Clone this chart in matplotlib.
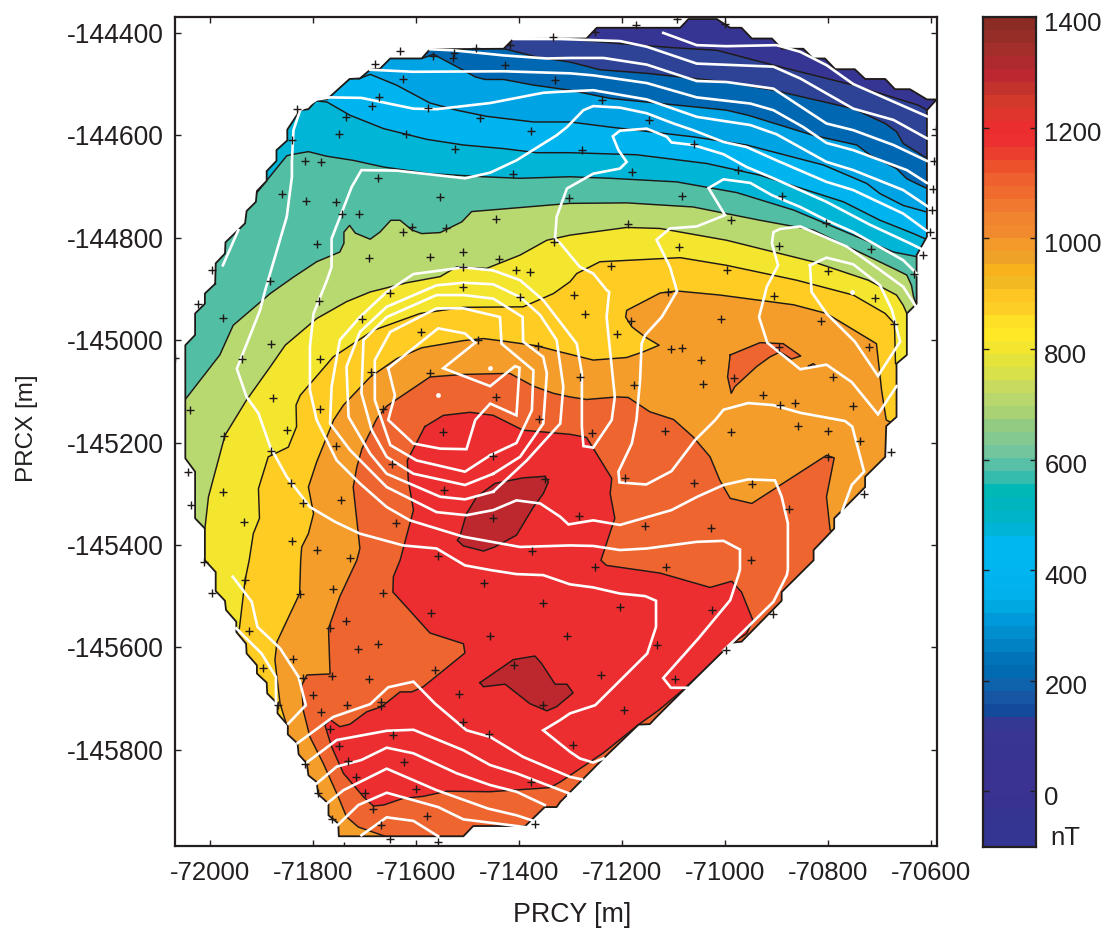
import numpy as np
import matplotlib
matplotlib.use("Agg")
import matplotlib.pyplot as plt
import matplotlib.transforms as mtrans
from matplotlib.patches import Polygon
from matplotlib.colors import ListedColormap, BoundaryNorm

plt.rcParams['font.family'] = ['Liberation Sans', 'DejaVu Sans']
plt.rcParams['axes.unicode_minus'] = False
INK = '#231F20'

# survey outline (PRCY, PRCX)
hull = [(-71990,-144890),(-71989,-144850),(-71971,-144831),(-71970,-144809),(-71932,-144772),(-71929,-144748),
(-71911,-144730),(-71909,-144709),(-71890,-144689),(-71890,-144670),(-71871,-144650),(-71871,-144629),
(-71850,-144610),(-71850,-144589),(-71825,-144551),(-71809,-144549),(-71793,-144531),(-71773,-144530),
(-71729,-144490),(-71709,-144489),(-71689,-144472),(-71670,-144470),(-71650,-144450),(-71589,-144450),
(-71573,-144432),(-71430,-144431),(-71411,-144412),(-71269,-144411),(-71249,-144390),(-71087,-144390),
(-71071,-144373),(-71016,-144373),(-70990,-144390),(-70968,-144390),(-70948,-144411),(-70909,-144411),
(-70890,-144431),(-70848,-144431),(-70829,-144450),(-70806,-144450),(-70786,-144471),(-70748,-144471),
(-70728,-144490),(-70689,-144490),(-70670,-144510),(-70641,-144510),(-70608,-144530),(-70589,-144530),
(-70608,-144551),(-70608,-144798),(-70628,-144834),(-70628,-144929),(-70647,-144948),(-70647,-145029),
(-70667,-145046),(-70667,-145150),(-70687,-145168),(-70689,-145228),(-70728,-145267),(-70728,-145287),
(-70788,-145348),(-70788,-145368),(-70828,-145410),(-70828,-145430),(-70890,-145492),(-70890,-145509),
(-70968,-145589),(-70987,-145591),(-71081,-145684),(-71133,-145736),(-71146,-145750),(-71168,-145751),
(-71236,-145817),(-71320,-145902),(-71327,-145912),(-71350,-145912),(-71388,-145949),(-71489,-145949),
(-71508,-145969),(-71750,-145969),(-71751,-145944),(-71770,-145928),(-71770,-145905),(-71790,-145887),
(-71793,-145863),(-71809,-145850),(-71812,-145827),(-71828,-145809),(-71830,-145788),(-71849,-145770),
(-71849,-145752),(-71869,-145729),(-71869,-145710),(-71889,-145690),(-71890,-145669),(-71909,-145651),
(-71909,-145635),(-71929,-145612),(-71930,-145593),(-71949,-145570),(-71949,-145550),(-71969,-145527),
(-71971,-145509),(-71989,-145490),(-71989,-145453),(-72010,-145430),(-72010,-145368),(-72029,-145348),
(-72029,-145257),(-72048,-145231),(-72048,-145010),(-72029,-144990),(-72029,-144948),(-72010,-144929),
(-72010,-144909)]

# contour lines, open across the survey
c100 = [(-71450,-144400),(-71320,-144411),(-71204,-144421),(-71100,-144429),(-71016,-144434),(-70906,-144463),
(-70751,-144502),(-70625,-144541),(-70602,-144554),(-70560,-144580)]
c200 = [(-71445,-144420),(-71429,-144431),(-71366,-144447),(-71301,-144457),(-71243,-144472),(-71152,-144479),
(-70997,-144496),(-70906,-144512),(-70751,-144548),(-70689,-144577),(-70667,-144593),(-70654,-144616),
(-70608,-144645),(-70550,-144680)]
c300 = [(-71600,-144440),(-71589,-144450),(-71566,-144442),(-71508,-144473),(-71485,-144486),(-71466,-144491),
(-71430,-144491),(-71372,-144502),(-71301,-144512),(-71223,-144528),(-71094,-144541),(-70997,-144551),
(-70955,-144561),(-70829,-144600),(-70744,-144619),(-70718,-144639),(-70667,-144665),(-70647,-144685),
(-70608,-144704),(-70550,-144735)]
c400 = [(-71725,-144480),(-71712,-144490),(-71689,-144481),(-71638,-144502),(-71573,-144537),(-71521,-144551),
(-71463,-144563),(-71372,-144574),(-71301,-144574),(-71223,-144584),(-71062,-144603),(-70958,-144619),
(-70809,-144658),(-70725,-144694),(-70699,-144714),(-70654,-144737),(-70608,-144750),(-70550,-144768)]
c500 = [(-71800,-144525),(-71793,-144533),(-71773,-144535),(-71728,-144561),(-71663,-144587),(-71579,-144608),
(-71508,-144619),(-71430,-144626),(-71366,-144634),(-71301,-144634),(-71172,-144638),(-71036,-144655),
(-70932,-144678),(-70770,-144730),(-70699,-144766),(-70634,-144792),(-70605,-144805),(-70550,-144830)]
c600 = [(-71930,-144740),(-71909,-144712),(-71851,-144640),(-71838,-144637),(-71809,-144632),(-71773,-144641),
(-71722,-144649),(-71663,-144662),(-71573,-144675),(-71469,-144681),(-71398,-144684),(-71301,-144681),
(-71223,-144684),(-71094,-144691),(-70977,-144712),(-70867,-144746),(-70673,-144828),(-70628,-144837),
(-70590,-144845)]
c700 = [(-72060,-145130),(-72052,-145121),(-71981,-145029),(-71955,-144971),(-71883,-144909),(-71838,-144877),
(-71793,-144847),(-71748,-144828),(-71740,-144811),(-71740,-144789),(-71729,-144776),(-71718,-144791),
(-71689,-144803),(-71670,-144789),(-71649,-144766),(-71631,-144766),(-71608,-144785),(-71589,-144792),
(-71553,-144790),(-71511,-144769),(-71492,-144749),(-71456,-144746),(-71301,-144733),(-71191,-144732),
(-71062,-144740),(-70932,-144766),(-70829,-144785),(-70673,-144860),(-70647,-144873),(-70638,-144893),
(-70634,-144915),(-70628,-144932),(-70600,-144940)]
c800 = [(-72040,-145385),(-72010,-145368),(-72003,-145306),(-71971,-145186),(-71929,-145117),(-71883,-145052),
(-71854,-145010),(-71793,-144958),(-71735,-144925),(-71689,-144906),(-71618,-144888),(-71553,-144876),
(-71521,-144857),(-71463,-144860),(-71398,-144834),(-71346,-144805),(-71301,-144795),(-71191,-144780),
(-71126,-144782),(-70997,-144805),(-70829,-144847),(-70722,-144883),(-70667,-144912),(-70654,-144932),
(-70647,-144948),(-70630,-144960)]
c900 = [(-71960,-145590),(-71943,-145563),(-71932,-145469),(-71924,-145430),(-71916,-145378),(-71904,-145348),
(-71906,-145290),(-71887,-145228),(-71848,-145209),(-71832,-145169),(-71833,-145127),(-71825,-145108),
(-71761,-145033),(-71683,-144981),(-71592,-144948),(-71508,-144936),(-71392,-144935),(-71333,-144909),
(-71301,-144886),(-71288,-144870),(-71243,-144847),(-71087,-144839),(-70997,-144854),(-70861,-144883),
(-70751,-144912),(-70689,-144948),(-70671,-144968),(-70669,-145046),(-70640,-145060)]
c1000 = [(-71860,-145775),(-71849,-145759),(-71864,-145710),(-71874,-145625),(-71870,-145589),(-71826,-145495),
(-71824,-145430),(-71822,-145404),(-71809,-145378),(-71799,-145339),(-71809,-145287),(-71793,-145238),
(-71760,-145156),(-71741,-145127),(-71689,-145072),(-71637,-145036),(-71589,-145015),(-71508,-145001),
(-71469,-144997),(-71430,-145002),(-71366,-145011),(-71320,-145023),(-71256,-145039),(-71191,-145034),
(-71159,-145023),(-71128,-145010),(-71155,-144994),(-71181,-144974),(-71193,-144955),(-71191,-144942),
(-71126,-144908),(-71094,-144904),(-71010,-144912),(-70867,-144931),(-70803,-144948),(-70706,-145007),
(-70696,-145098),(-70687,-145156),(-70650,-145175)]
c1100 = [(-71650,-145973),(-71663,-145968),(-71712,-145951),(-71735,-145931),(-71751,-145892),(-71780,-145827),
(-71806,-145775),(-71819,-145723),(-71822,-145674),(-71812,-145654),(-71767,-145652),(-71770,-145563),
(-71748,-145501),(-71715,-145430),(-71709,-145407),(-71722,-145287),(-71715,-145248),(-71705,-145212),
(-71676,-145153),(-71657,-145129),(-71573,-145072),(-71508,-145067),(-71418,-145065),(-71372,-145090),
(-71333,-145104),(-71301,-145111),(-71269,-145116),(-71210,-145111),(-71188,-145112),(-71146,-145140),
(-71100,-145155),(-71062,-145189),(-71029,-145228),(-71010,-145274),(-70990,-145309),(-70948,-145319),
(-70803,-145225),(-70788,-145230),(-70803,-145306),(-70796,-145371),(-70770,-145385)]

# closed contours
c1100_isle_a = [(-70990,-145029),(-70932,-145005),(-70887,-145007),(-70853,-145031),(-70871,-145037),(-70893,-145023),
(-70913,-145033),(-70939,-145052),(-70981,-145091),(-70988,-145104),(-70995,-145072)]
c1100_isle_b = [(-70838,-145051),(-70829,-145046),(-70822,-145051)]
c1200 = [(-71583,-145169),(-71547,-145147),(-71495,-145141),(-71450,-145147),(-71392,-145176),(-71301,-145184),
(-71269,-145190),(-71220,-145270),(-71223,-145300),(-71214,-145348),(-71241,-145430),(-71230,-145440),
(-71126,-145455),(-71029,-145483),(-70987,-145471),(-70968,-145492),(-70946,-145547),(-70958,-145573),
(-70981,-145589),(-71084,-145685),(-71129,-145723),(-71168,-145751),(-71236,-145806),(-71320,-145863),
(-71340,-145874),(-71456,-145882),(-71540,-145881),(-71586,-145891),(-71625,-145895),(-71663,-145908),
(-71683,-145910),(-71702,-145892),(-71741,-145846),(-71764,-145794),(-71777,-145752),(-71767,-145741),
(-71748,-145755),(-71728,-145750),(-71696,-145726),(-71667,-145716),(-71631,-145687),(-71608,-145687),
(-71586,-145677),(-71505,-145611),(-71508,-145593),(-71573,-145572),(-71625,-145514),(-71645,-145492),
(-71644,-145462),(-71631,-145430),(-71605,-145332),(-71615,-145274),(-71617,-145235)]
c1300_isle_a = [(-71515,-145384),(-71502,-145339),(-71482,-145306),(-71447,-145280),(-71392,-145269),(-71350,-145266),
(-71343,-145277),(-71353,-145300),(-71372,-145326),(-71405,-145381),(-71447,-145404),(-71469,-145412),
(-71508,-145402),(-71520,-145391)]
c1300_isle_b = [(-71476,-145669),(-71411,-145624),(-71369,-145617),(-71356,-145632),(-71330,-145672),(-71307,-145672),
(-71295,-145689),(-71320,-145710),(-71327,-145716),(-71346,-145724),(-71379,-145710),(-71427,-145672),
(-71469,-145677)]

band_base = '#373594'
open_bands = [(c100,'#2E4296'),(c200,'#0067B3'),(c300,'#00A3E4'),(c400,'#00B4F0'),(c500,'#00B5D6'),(c600,'#52BFA5'),
              (c700,'#B8D96F'),(c800,'#F4E62F'),(c900,'#FECC23'),(c1000,'#F59D2B'),(c1100,'#EE6530')]
closed_bands = [(c1100_isle_a,'#EE6530'),(c1100_isle_b,'#EE6530'),(c1200,'#EC2E30'),
                (c1300_isle_a,'#BD272E'),(c1300_isle_b,'#BD272E')]

# second field, white lines
w_top = [(-71120,-144400),(-71055,-144424),(-70997,-144426),(-70900,-144424),(-70854,-144437),(-70803,-144463),
(-70751,-144500),(-70608,-144563)]
w_2 = [(-71411,-144412),(-71320,-144412),(-71204,-144416),(-71152,-144427),(-71055,-144460),(-70906,-144466),
(-70854,-144489),(-70751,-144548),(-70673,-144570),(-70608,-144606)]
w_3 = [(-71573,-144432),(-71528,-144434),(-71430,-144444),(-71346,-144450),(-71301,-144449),(-71236,-144449),
(-71152,-144462),(-71055,-144494),(-70997,-144496),(-70906,-144509),(-70803,-144577),(-70751,-144590),
(-70673,-144619),(-70608,-144650)]
w_4 = [(-71689,-144472),(-71605,-144476),(-71430,-144475),(-71301,-144479),(-71256,-144483),(-71152,-144498),
(-71055,-144526),(-70951,-144538),(-70906,-144551),(-70848,-144584),(-70803,-144615),(-70751,-144629),
(-70647,-144668),(-70608,-144693)]
w_5 = [(-70605,-144740),(-70654,-144707),(-70751,-144668),(-70803,-144652),(-70900,-144598),(-70951,-144580),
(-71055,-144564),(-71152,-144530),(-71256,-144512),(-71320,-144515),(-71353,-144517),(-71456,-144537),
(-71560,-144549),(-71605,-144548),(-71706,-144527),(-71767,-144526),(-71793,-144530),(-71825,-144551),
(-71838,-144590),(-71841,-144649),(-71841,-144681),(-71851,-144759),(-71893,-144903),(-71903,-144942),
(-71948,-145056),(-71929,-145111),(-71906,-145143),(-71883,-145209),(-71851,-145267),(-71806,-145326),
(-71757,-145355),(-71709,-145378),(-71625,-145401),(-71560,-145407),(-71505,-145440),(-71456,-145449),
(-71405,-145457),(-71353,-145459),(-71301,-145477),(-71256,-145483),(-71204,-145495),(-71155,-145500),
(-71134,-145509),(-71134,-145560),(-71151,-145612),(-71252,-145713),(-71301,-145729),(-71320,-145742),
(-71353,-145762),(-71301,-145804),(-71282,-145817),(-71256,-145825),(-71236,-145817)]
w_6 = [(-70605,-144789),(-70654,-144753),(-70751,-144707),(-70803,-144691),(-70900,-144649),(-70958,-144623),
(-71003,-144613),(-71062,-144590),(-71100,-144577),(-71152,-144557),(-71204,-144546),(-71256,-144543),
(-71275,-144551),(-71307,-144584),(-71327,-144600),(-71405,-144649),(-71456,-144673),(-71505,-144684),
(-71638,-144669),(-71706,-144668),(-71725,-144701),(-71764,-144802),(-71764,-144857),(-71773,-144883),
(-71799,-144948),(-71806,-145013),(-71806,-145098),(-71793,-145156),(-71754,-145235),(-71709,-145280),
(-71657,-145326),(-71612,-145352),(-71508,-145384),(-71398,-145404),(-71301,-145401),(-71256,-145402),
(-71204,-145410),(-71152,-145407),(-71055,-145394),(-71003,-145392),(-70971,-145409),(-70971,-145448),
(-70974,-145459),(-70990,-145508),(-71052,-145583),(-71120,-145660),(-71105,-145679),(-71074,-145679)]
w_7 = [(-70615,-144824),(-70641,-144811),(-70718,-144775),(-70803,-144730),(-70906,-144684),(-70958,-144662),
(-71003,-144637),(-71062,-144619),(-71104,-144614),(-71113,-144603),(-71152,-144587),(-71204,-144591),
(-71218,-144602),(-71207,-144629),(-71191,-144652),(-71204,-144665),(-71256,-144675),(-71307,-144704),
(-71320,-144740),(-71327,-144759),(-71330,-144802),(-71320,-144811),(-71282,-144857),(-71256,-144870),
(-71230,-144902),(-71225,-144906),(-71230,-144955),(-71214,-145111),(-71220,-145156),(-71256,-145210),
(-71275,-145207),(-71278,-145169),(-71278,-145065),(-71288,-145007),(-71301,-144990),(-71353,-144922),
(-71398,-144883),(-71450,-144864),(-71508,-144858),(-71605,-144871),(-71657,-144906),(-71709,-144955),
(-71748,-145000),(-71764,-145091),(-71767,-145163),(-71728,-145215),(-71657,-145287),(-71560,-145336),
(-71502,-145342),(-71450,-145332),(-71405,-145313),(-71359,-145319),(-71320,-145345),(-71304,-145360),
(-71256,-145352),(-71204,-145361),(-71104,-145332),(-71052,-145305),(-71003,-145283),(-70955,-145272),
(-70903,-145274),(-70890,-145306),(-70878,-145358),(-70878,-145448),(-70880,-145459),(-70906,-145511),
(-70987,-145591),(-71003,-145606)]
w_8 = [(-70625,-144873),(-70654,-144844),(-70751,-144789),(-70803,-144766),(-70854,-144740),(-70909,-144717),
(-70951,-144693),(-71003,-144686),(-71032,-144703),(-71000,-144756),(-71055,-144778),(-71107,-144782),
(-71133,-144804),(-71107,-144857),(-71094,-144902),(-71093,-144904),(-71123,-144955),(-71155,-144990),
(-71162,-145007),(-71165,-145078),(-71172,-145156),(-71181,-145202),(-71207,-145257),(-71205,-145278),
(-71153,-145282),(-71104,-145256),(-71058,-145195),(-71019,-145156),(-71003,-145136),(-70955,-145123),
(-70906,-145127),(-70854,-145142),(-70767,-145158),(-70753,-145169),(-70730,-145257),(-70754,-145283),
(-70773,-145335)]
w_9 = [(-70631,-144932),(-70654,-144896),(-70699,-144863),(-70764,-144817),(-70854,-144778),(-70893,-144783),
(-70906,-144789),(-70909,-144811),(-70897,-144854),(-70919,-144896),(-70924,-144916),(-70934,-144955),
(-70918,-145005),(-70854,-145057),(-70803,-145048),(-70754,-145082),(-70703,-145145),(-70667,-145090)]
w_left = [(-71975,-144854),(-71945,-144785)]
w_s1 = [(-71956,-145462),(-71919,-145511),(-71908,-145560),(-71864,-145602),(-71828,-145658),(-71814,-145713),(-71848,-145749)]
w_s2 = [(-71949,-145563),(-71900,-145612),(-71872,-145658),(-71872,-145710)]
w_s3 = [(-71830,-145787),(-71761,-145736),(-71689,-145711),(-71654,-145678),(-71605,-145667),(-71563,-145710),
(-71502,-145762),(-71456,-145775),(-71392,-145814),(-71301,-145853),(-71278,-145858)]
w_s4 = [(-71815,-145827),(-71754,-145781),(-71657,-145763),(-71605,-145761),(-71508,-145801),(-71456,-145830),
(-71405,-145846),(-71301,-145886),(-71304,-145889)]
w_s5 = [(-71793,-145866),(-71754,-145833),(-71706,-145820),(-71657,-145796),(-71605,-145807),(-71521,-145846),
(-71456,-145869),(-71405,-145882),(-71350,-145908)]
w_s6 = [(-71773,-145905),(-71741,-145879),(-71657,-145837),(-71560,-145879),(-71460,-145915),(-71405,-145928),(-71375,-145938)]
w_s7 = [(-71752,-145947),(-71712,-145908),(-71657,-145884),(-71557,-145912),(-71508,-145936),(-71388,-145951)]
w_s8 = [(-71706,-145967),(-71657,-145932),(-71605,-145939),(-71557,-145969)]
white_open = [w_top,w_2,w_3,w_4,w_5,w_6,w_7,w_8,w_9,w_left,w_s1,w_s2,w_s3,w_s4,w_s5,w_s6,w_s7,w_s8]

ring_0 = [(-71654,-145055),(-71557,-144977),(-71505,-144987),(-71485,-145005),(-71547,-145055),(-71456,-145090),
(-71408,-145051),(-71399,-145054),(-71405,-145147),(-71456,-145124),(-71485,-145156),(-71502,-145213),
(-71553,-145212),(-71605,-145202),(-71654,-145156),(-71641,-145108)]
ring_1 = [(-71456,-145225),(-71405,-145201),(-71375,-145137),(-71372,-145059),(-71434,-145007),(-71437,-144955),
(-71508,-144938),(-71560,-144938),(-71650,-144984),(-71680,-145039),(-71680,-145117),(-71650,-145205),
(-71599,-145235),(-71505,-145257)]
ring_2 = [(-71450,-145261),(-71398,-145228),(-71353,-145163),(-71346,-145065),(-71353,-145033),(-71392,-145003),
(-71393,-144955),(-71450,-144919),(-71508,-144912),(-71560,-144912),(-71657,-144955),(-71702,-145000),
(-71706,-145104),(-71686,-145176),(-71657,-145228),(-71605,-145261),(-71505,-145283)]
ring_3 = [(-71450,-145296),(-71385,-145235),(-71320,-145163),(-71314,-145091),(-71327,-145000),(-71359,-144951),
(-71398,-144916),(-71450,-144891),(-71508,-144888),(-71560,-144893),(-71657,-144935),(-71709,-144984),
(-71735,-145052),(-71731,-145150),(-71689,-145222),(-71657,-145261),(-71553,-145306),(-71505,-145311)]
ring_4 = [(-70835,-144854),(-70803,-144839),(-70751,-144852),(-70699,-144893),(-70676,-144941),(-70660,-145003),
(-70703,-145070),(-70748,-145003),(-70803,-144948),(-70832,-144906)]
white_closed = [ring_0,ring_1,ring_2,ring_3,ring_4]

white_dots_y = [-71557,-71456,-70754]
white_dots_x = [-145108,-145055,-144907]

stations_a = [(-71997,-144864),(-71883,-144884),(-71861,-144714),(-71814,-144728),(-71755,-144730),(-71743,-144754),
(-71710,-144753),(-71793,-144813),(-71691,-144839),(-71626,-144789),(-71607,-144779),(-71542,-144782),
(-71553,-144720),(-71673,-144684),(-71815,-144651),(-71784,-144652),(-71840,-144610),(-71750,-144597),
(-71736,-144565),(-71832,-144548),(-71686,-144543),(-71671,-144525),(-71625,-144491),(-71680,-144460),
(-71631,-144436),(-71568,-144445),(-71529,-144449),(-71526,-144440),(-71484,-144429),(-71418,-144424),
(-71335,-144409),(-71427,-144463),(-71330,-144493),(-71576,-144546),(-71476,-144567),(-71377,-144591),
(-71619,-144598),(-71524,-144627),(-71412,-144675),(-71303,-144722),(-71445,-144763),(-71573,-144837),
(-71509,-144828),(-71438,-144841),(-71333,-144808),(-71405,-144864),(-71379,-144867),(-71508,-144896),
(-71508,-144858)]
stations_b = [(-71252,-144398),(-71172,-144385),(-71093,-144373),(-71000,-144383),(-71238,-144531),(-71147,-144571),
(-71060,-144617),(-71278,-144629),(-71181,-144671),(-70975,-144668),(-70890,-144718),(-71084,-144718),
(-70988,-144766),(-71188,-144774),(-70804,-144772),(-70717,-144822),(-70895,-144817),(-71089,-144819),
(-71222,-144856),(-70996,-144864),(-70801,-144865),(-70633,-144871),(-70616,-144834),(-70602,-144789),
(-70599,-144746),(-70597,-144704),(-70594,-144650),(-70590,-144587)]
stations_c = [(-72024,-144929),(-71975,-144957),(-71882,-145007),(-71788,-144923),(-72068,-145035),(-71937,-145036),
(-71786,-145037),(-71704,-144958),(-71650,-144908),(-71398,-144916),(-71591,-144985),(-71687,-145062),
(-71572,-145065),(-71479,-145000),(-71364,-145012),(-71877,-145113),(-72038,-145137),(-71786,-145134),
(-71665,-145134),(-71445,-145111),(-71851,-145175),(-71972,-145188),(-71547,-145179),(-71361,-145155),
(-71881,-145216),(-71756,-145207),(-71647,-145242),(-71451,-145226),(-72042,-145257),(-71843,-145280),
(-71974,-145296),(-71545,-145293),(-71350,-145272),(-71819,-145319),(-71746,-145313),(-72036,-145322),
(-71934,-145356),(-71638,-145358),(-71450,-145347),(-71841,-145392),(-71793,-145410),(-71728,-145425),
(-71557,-145422),(-71375,-145412),(-72011,-145434)]
stations_d = [(-71293,-144912),(-71272,-144949),(-71111,-144906),(-71183,-144963),(-71209,-144989),(-71105,-145018),
(-71084,-145015),(-71007,-144958),(-70904,-144914),(-70813,-144962),(-70709,-144917),(-70672,-144969),
(-70720,-145013),(-71046,-145039),(-70896,-145014),(-71282,-145073),(-71177,-145087),(-71042,-145085),
(-70983,-145074),(-70790,-145072),(-70927,-145108),(-70893,-145126),(-70865,-145123),(-70752,-145128),
(-71258,-145182),(-71116,-145177),(-70989,-145179),(-70859,-145168),(-70801,-145178),(-70738,-145197),
(-70678,-145218),(-70801,-145228),(-71194,-145270),(-71061,-145280),(-70947,-145281),(-70731,-145300),
(-70875,-145330),(-71283,-145343),(-71155,-145363),(-71028,-145366),(-70950,-145430)]
stations_e = [(-71932,-145468),(-71997,-145494),(-71825,-145495),(-71762,-145486),(-71665,-145494),(-71469,-145475),
(-71354,-145513),(-71570,-145533),(-71736,-145549),(-71924,-145569),(-71768,-145563),(-71456,-145578),
(-71306,-145578),(-71713,-145604),(-71674,-145594),(-71838,-145622),(-71898,-145641),(-71563,-145645),
(-71409,-145634),(-71819,-145659),(-71764,-145656),(-71691,-145661),(-71801,-145693),(-71517,-145692),
(-71868,-145713),(-71735,-145712),(-71669,-145706),(-71669,-145715),(-71353,-145712),(-71784,-145727),
(-71509,-145746),(-71767,-145760),(-71645,-145772),(-71458,-145770),(-71749,-145793),(-71733,-145822),
(-71623,-145824),(-71816,-145828),(-71716,-145854),(-71377,-145863),(-71601,-145877),(-71790,-145884),
(-71699,-145884),(-71684,-145916),(-71579,-145930),(-71764,-145936),(-71668,-145947),(-71369,-145946),
(-71650,-145975),(-71557,-145981),(-71739,-145988)]
stations_f = [(-71252,-145444),(-71115,-145444),(-71204,-145521),(-71025,-145527),(-70906,-145534),(-71133,-145595),
(-70998,-145606),(-71241,-145654),(-71098,-145662),(-71197,-145723),(-71296,-145790)]

x_ticks = [-72000,-71800,-71600,-71400,-71200,-71000,-70800,-70600]
y_ticks = [-144400,-144600,-144800,-145000,-145200,-145400,-145600,-145800]
cbar_ticks = [0,200,400,600,800,1000,1200,1400]
cbar_labels = ['0','200','400','600','800','1000','1200','1400']

cbar_colors_top_down = ['#8A2B24','#962E27','#A22F2A','#AF2A2E','#BC2730','#C4322E','#D3392B','#E0352D','#EC2D30',
'#EC3030','#EC3E2F','#EC512B','#EE602E','#F06B2E','#F1792F','#F0842F','#F18A2E','#F39A2B','#EEA328','#F7B21C',
'#F1BA22','#FDC622','#FDCE25','#FEE027','#FFE826','#F4E62E','#E4E33B','#D8E04A','#C8DB5E','#B8D76C','#A8D274',
'#92CC82','#84C98F','#72C59C','#58C0A6','#36BCAC','#00B8B6','#00B5BE','#00B4C8','#00B4D8','#00B7EF','#00B7F0',
'#00B5F0','#00B3EE','#00B1EC','#00A8E2','#009ADB','#008ECF','#0082C4','#0073B9','#006BB1','#0E63AC','#1756A2',
'#134A9B','#353893','#383692','#383592','#393492','#3A3391','#3A3391','#383391','#363491','#343492','#343492']

W, H = 1108, 935
fig = plt.figure(figsize=(W/100, H/100), dpi=100, facecolor='white')
ax = fig.add_axes([174.5/W, 1-846/H, (936.7-174.5)/W, (846-17)/H])
ax.set_xlim(-72069, -70589)
ax.set_ylim(-145988, -144369)

hull_patch = Polygon(hull, closed=True, facecolor=band_base, edgecolor='none', zorder=1)
ax.add_patch(hull_patch)
clip = Polygon(hull, closed=True, transform=ax.transData)
FAR_L, FAR_R, FAR_B = -73000, -70000, -147000

def add_region(pts, color, z, closed_line):
    arr = np.array(pts, dtype=float)
    if closed_line:
        outline = arr
        lx = np.r_[arr[:, 0], arr[0, 0]]
        ly = np.r_[arr[:, 1], arr[0, 1]]
    else:
        outline = np.vstack([arr, [FAR_R, arr[-1, 1]], [FAR_R, FAR_B], [FAR_L, FAR_B], [FAR_L, arr[0, 1]]])
        lx, ly = arr[:, 0], arr[:, 1]
    p = Polygon(outline, closed=True, facecolor=color, edgecolor='none', zorder=z)
    ax.add_patch(p)
    p.set_clip_path(clip)
    ln, = ax.plot(lx, ly, color='#1F1A17', lw=1.05, zorder=z + 0.1, solid_joinstyle='round')
    ln.set_clip_path(clip)

z = 2
for pts, col in open_bands:
    add_region(pts, col, z, False)
    z += 1
for pts, col in closed_bands:
    add_region(pts, col, z, True)
    z += 1

hx = [p[0] for p in hull] + [hull[0][0]]
hy = [p[1] for p in hull] + [hull[0][1]]
ax.plot(hx, hy, color='#1F1A17', lw=1.3, zorder=30)

for line in white_open:
    ax.plot([p[0] for p in line], [p[1] for p in line], color='white', lw=1.9, zorder=31, solid_joinstyle='miter')
for line in white_closed:
    ax.plot([p[0] for p in line] + [line[0][0]], [p[1] for p in line] + [line[0][1]], color='white', lw=1.9,
            zorder=31, solid_joinstyle='miter')
ax.scatter(white_dots_y, white_dots_x, s=12, color='white', zorder=32, linewidths=0)

for st in (stations_a, stations_b, stations_c, stations_d, stations_e, stations_f):
    ax.plot([p[0] for p in st], [p[1] for p in st], ls='none', marker='+', ms=5.2, mew=1.0, color='#1F1A17', zorder=33)

ax.set_xticks(x_ticks)
ax.set_xticklabels([str(v) for v in x_ticks])
ax.set_yticks(y_ticks)
ax.set_yticklabels([str(v) for v in y_ticks])
ax.tick_params(axis='both', direction='in', top=True, right=True, length=4.5, width=1.0, color=INK, labelcolor=INK)
ax.tick_params(axis='x', pad=11, labelsize=18.5)
ax.tick_params(axis='y', pad=8, labelsize=19.1)
for s in ax.spines.values():
    s.set_linewidth(1.6)
    s.set_color(INK)
    s.set_zorder(40)
ax.set_xlabel('PRCY [m]', fontsize=19.3, color=INK, va='center')
ax.xaxis.set_label_coords((572-174.5)/762.2, -(915-846)/829)
ax.set_ylabel('PRCX [m]', fontsize=17.5, color=INK, va='center')
ax.yaxis.set_label_coords((27-174.5)/762.2, (846-428)/829)

cax = fig.add_axes([982.7/W, 1-846.7/H, (1036-982.7)/W, (846.7-17.3)/H])
edges = np.linspace(-100, 1400, 65)
cmap = ListedColormap(cbar_colors_top_down[::-1])
norm = BoundaryNorm(edges, cmap.N)
centers = 0.5*(edges[:-1] + edges[1:])
cax.pcolormesh([0, 1], edges, centers[:, None], cmap=cmap, norm=norm, shading='flat')
cax.set_xticks([])
cax.set_ylim(-100, 1400)
cax.set_yticks(cbar_ticks)
cax.set_yticklabels(cbar_labels)
cax.tick_params(axis='y', direction='in', left=True, right=True, labelleft=False, labelright=True, length=4.5,
                width=1.0, color=INK, labelsize=18.5, labelcolor=INK, pad=6)
off = mtrans.ScaledTranslation(0, -4/100, fig.dpi_scale_trans)
for lab in cax.get_yticklabels():
    lab.set_transform(lab.get_transform() + off)
for s in cax.spines.values():
    s.set_linewidth(1.6)
    s.set_color(INK)
fig.text(1050/W, 1-838/H, 'nT', fontsize=18.5, color=INK, va='center', ha='left')

fig.savefig('out.png', dpi=100, facecolor='white')
